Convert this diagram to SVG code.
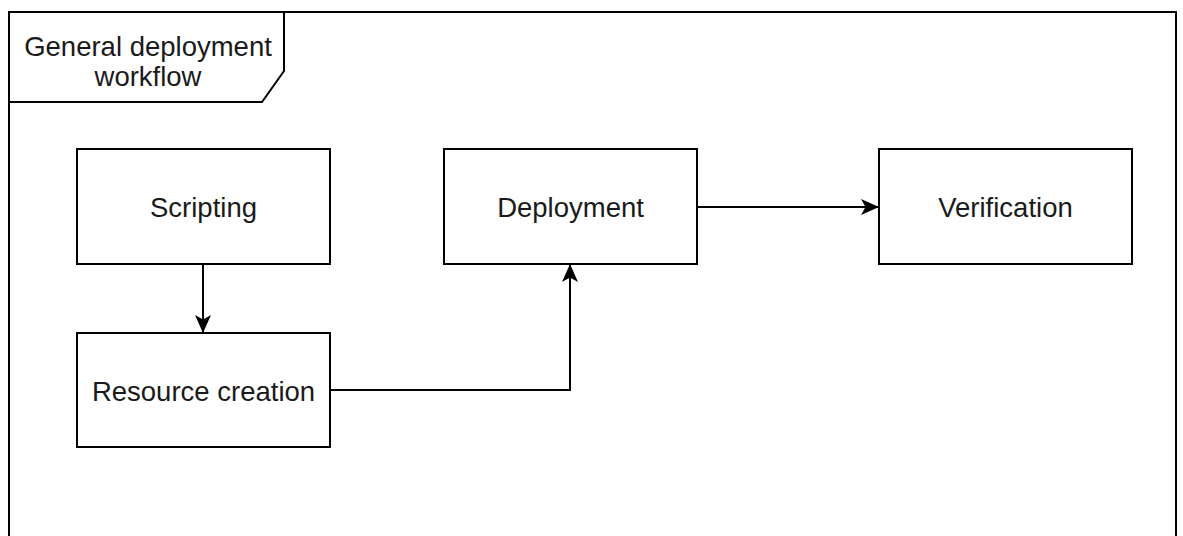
<svg xmlns="http://www.w3.org/2000/svg" width="1183" height="536" viewBox="0 0 1183 536">
  <style>
    .box { fill: #ffffff; stroke: #000000; stroke-width: 2; }
    .label { font-family: "Liberation Sans", Arial, Helvetica, sans-serif; font-size: 27.5px; fill: #1a1a1a; text-anchor: middle; }
    .edge { fill: none; stroke: #000000; stroke-width: 2; marker-end: url(#arrow); }
  </style>
  <defs>
    <marker id="arrow" viewBox="0 0 18 16" refX="17" refY="8" markerWidth="18" markerHeight="16" markerUnits="userSpaceOnUse" orient="auto">
      <path d="M0,0 L18,8 L0,16 L4.5,8 Z" fill="#000000"/>
    </marker>
  </defs>
  <rect width="1183" height="536" fill="#ffffff"/>

  <!-- frame with title tab -->
  <g id="frame">
    <rect class="box" x="9" y="12" width="1167" height="540"/>
    <path class="box" d="M9,12 L284,12 L284,71 L262,102 L9,102 Z"/>
    <text class="label" x="148" y="56">General deployment</text>
    <text class="label" x="148" y="86">workflow</text>
  </g>

  <g id="connectors">
    <path class="edge" d="M203,264 L203,332"/>
    <path class="edge" d="M330,390 L570,390 L570,265"/>
    <path class="edge" d="M697,207 L878,207"/>
  </g>

  <g id="scripting">
    <rect class="box" x="77" y="149" width="253" height="115"/>
    <text class="label" x="203.5" y="216.5">Scripting</text>
  </g>
  <g id="resource-creation">
    <rect class="box" x="77" y="333" width="253" height="114"/>
    <text class="label" x="203.5" y="400.5">Resource creation</text>
  </g>
  <g id="deployment">
    <rect class="box" x="444" y="149" width="253" height="115"/>
    <text class="label" x="570.5" y="216.5">Deployment</text>
  </g>
  <g id="verification">
    <rect class="box" x="879" y="149" width="253" height="115"/>
    <text class="label" x="1005.5" y="216.5">Verification</text>
  </g>
</svg>
